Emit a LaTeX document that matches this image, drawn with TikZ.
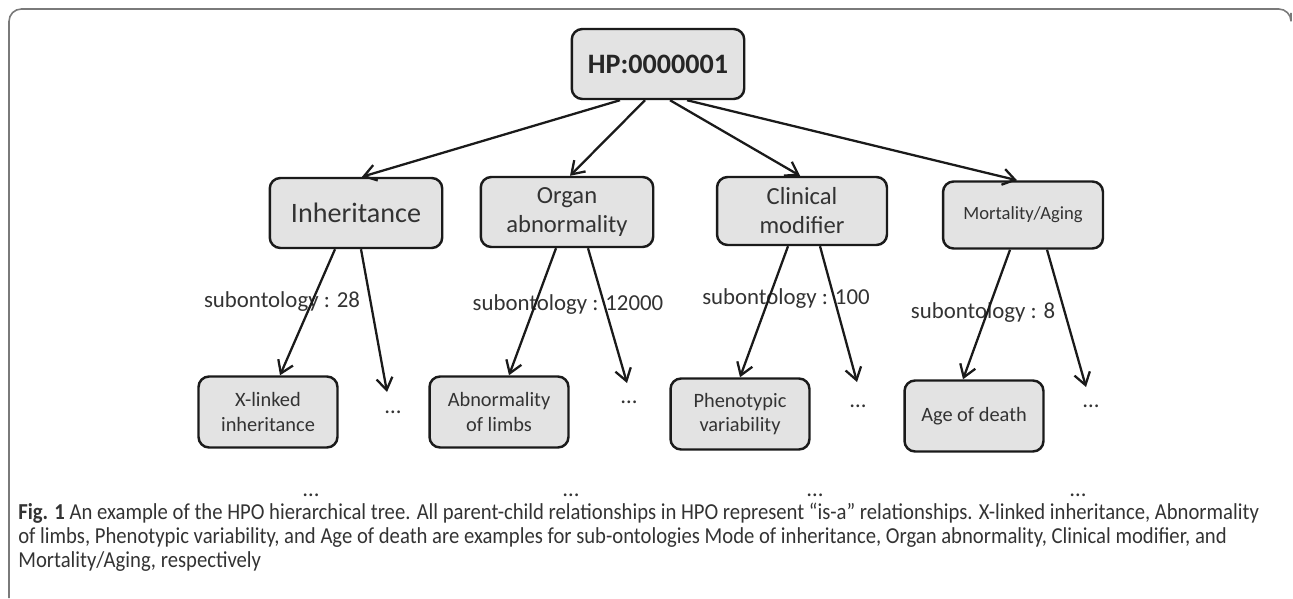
\documentclass[tikz,border=0pt]{standalone}
\usepackage{fontspec}
\setmainfont{Carlito}
\newfontfamily\capfont[FakeStretch=0.905]{Carlito}
\usetikzlibrary{arrows.meta}
\definecolor{BoxFill}{HTML}{E3E3E3}
\definecolor{BoxLine}{HTML}{1A1A1A}
\definecolor{TextDark}{HTML}{333333}
\definecolor{FrameGray}{HTML}{7A7A7A}

\begin{document}
\begin{tikzpicture}[
  x=0.02cm, y=-0.02cm,
  tbox/.style={rectangle, rounded corners=6pt, draw=BoxLine, fill=BoxFill, text=TextDark,
               line width=1.4pt, minimum width=3.45cm, minimum height=1.4cm,
               align=center, inner sep=2pt},
  root/.style={tbox, text=black!85, font=\bfseries\fontsize{16}{19}\selectfont},
  cat/.style={tbox, font=\fontsize{14}{16.5}\selectfont},
  leaf/.style={tbox, minimum width=2.78cm, minimum height=1.42cm,
               font=\fontsize{11.6}{13.8}\selectfont},
  more/.style={font=\fontsize{13}{15}\selectfont, text=TextDark, inner sep=0pt},
  cnt/.style={font=\fontsize{13}{15}\selectfont, text=TextDark, inner sep=1pt},
  capt/.style={font=\capfont\fontsize{13}{13.6}\selectfont, text=black!80,
               align=left, inner sep=0pt},
  arr/.style={-{Straight Barb[length=2.4mm, width=3.2mm]}, line width=1.3pt, color=BoxLine},
]
  \useasboundingbox (0,0) rectangle (1293,598);

  % frame
  \draw[FrameGray, line width=0.9pt, rounded corners=7pt] (9,598) -- (9,9) -- (1291,9) -- (1291,13);

  % Nodes
  \node[root] (hp) at (658,64) {HP:0000001};
  \node[cat, font=\fontsize{16}{19}\selectfont] (inh) at (356,213) {Inheritance};
  \node[cat] (org) at (567,212) {Organ\\abnormality};
  \node[cat, minimum width=3.4cm, minimum height=1.36cm] (clin) at (802,211) {Clinical\\modifier};
  \node[cat, minimum width=3.2cm, minimum height=1.34cm, font=\fontsize{10.6}{13}\selectfont] (mort) at (1023,215) {Mortality/Aging};

  \node[leaf] (xlink) at (268,412) {X-linked\\inheritance};
  \node[leaf] (limbs) at (499,412) {Abnormality\\of limbs};
  \node[leaf] (pheno) at (740,414) {Phenotypic\\variability};
  \node[leaf] (death) at (974,416) {Age of death};

  \node[more] (dInh) at (393,412) {\textellipsis};
  \node[more] (dOrg) at (629,402) {\textellipsis};
  \node[more] (dClin) at (858,406) {\textellipsis};
  \node[more] (dMort) at (1091,406) {\textellipsis};

  \node[more] (bX) at (311,495) {\textellipsis};
  \node[more] (bL) at (571,495) {\textellipsis};
  \node[more] (bP) at (815,495) {\textellipsis};
  \node[more] (bD) at (1078,495) {\textellipsis};

  % counts
  \node[cnt] (cInh) at (282,302) {subontology : 28};
  \node[cnt] (cOrg) at (568,305) {subontology : 12000};
  \node[cnt] (cClin) at (786,299) {subontology : 100};
  \node[cnt] (cMort) at (983,313) {subontology : 8};

  % Arrows
  \draw[arr] ([shift={(-38,0)}]hp.south) -- ([shift={(6,0)}]inh.north);
  \draw[arr] ([shift={(-13,0)}]hp.south) -- ([shift={(3,0)}]org.north);
  \draw[arr] ([shift={(12,0)}]hp.south) -- ([shift={(-2,0)}]clin.north);
  \draw[arr] ([shift={(29,0)}]hp.south) -- ([shift={(-6,0)}]mort.north);

  \draw[arr] ([shift={(-21,0)}]inh.south) -- ([shift={(12,0)}]xlink.north);
  \draw[arr] ([shift={(5,0)}]inh.south) -- ([shift={(-6,-20)}]dInh.center);
  \draw[arr] ([shift={(-11,0)}]org.south) -- ([shift={(10,0)}]limbs.north);
  \draw[arr] ([shift={(21,0)}]org.south) -- ([shift={(-2,-19)}]dOrg.center);
  \draw[arr] ([shift={(-14,0)}]clin.south) -- (pheno.north);
  \draw[arr] ([shift={(18,0)}]clin.south) -- ([shift={(-1,-24)}]dClin.center);
  \draw[arr] ([shift={(-13,0)}]mort.south) -- ([shift={(-11,0)}]death.north);
  \draw[arr] ([shift={(24,0)}]mort.south) -- ([shift={(-5,-19)}]dMort.center);

  % caption
  \node[capt, anchor=north west] (caption) at (18,503) {\textbf{Fig. 1} An example of the HPO hierarchical tree. All parent-child relationships in HPO represent “is-a” relationships. X-linked inheritance, Abnormality\\
of limbs, Phenotypic variability, and Age of death are examples for sub-ontologies Mode of inheritance, Organ abnormality, Clinical modifier, and\\
Mortality/Aging, respectively};
\end{tikzpicture}
\end{document}
